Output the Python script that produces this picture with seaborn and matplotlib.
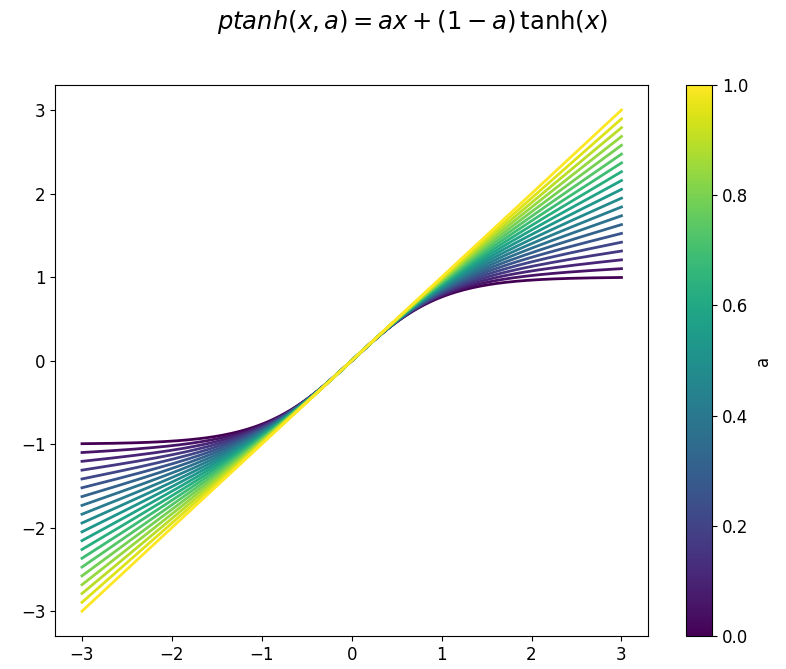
import matplotlib
matplotlib.use('Agg')
import matplotlib.pyplot as plt
import seaborn as sns
import numpy as np
import pandas as pd

# parameter values of the curve family (20 curves, a from 0 to 1)
a_values = np.linspace(0, 1, 20)
x_values = np.linspace(-3, 3, 200)

# Build long-form table
rows = []
for a in a_values:
    y = a * x_values + (1 - a) * np.tanh(x_values)
    rows.append(pd.DataFrame({'x': x_values, 'y': y, 'a': a}))
df = pd.concat(rows, ignore_index=True)

fig = plt.figure(figsize=(7.86, 6.69), dpi=100)
ax = fig.add_axes([0.070, 0.049, 0.755, 0.824])
cax = fig.add_axes([0.873, 0.049, 0.033, 0.824])

norm = plt.Normalize(0, 1)
sns.lineplot(data=df, x='x', y='y', hue='a', palette='viridis', hue_norm=norm,
             linewidth=2, legend=False, ax=ax, estimator=None, sort=False)
ax.set_xlabel('')
ax.set_ylabel('')
ax.set_xticks([-3, -2, -1, 0, 1, 2, 3])
ax.set_yticks([-3, -2, -1, 0, 1, 2, 3])
ax.tick_params(labelsize=12)

sm = plt.cm.ScalarMappable(cmap='viridis', norm=norm)
cbar = fig.colorbar(sm, cax=cax)
cbar.set_label('a', fontsize=12)
cbar.ax.tick_params(labelsize=12)

fig.suptitle(r'$ptanh(x, a) = ax + (1 - a)\,\tanh(x)$', fontsize=17.5, x=0.525, y=0.988)

plt.savefig('out.png', dpi=100)
plt.close()
